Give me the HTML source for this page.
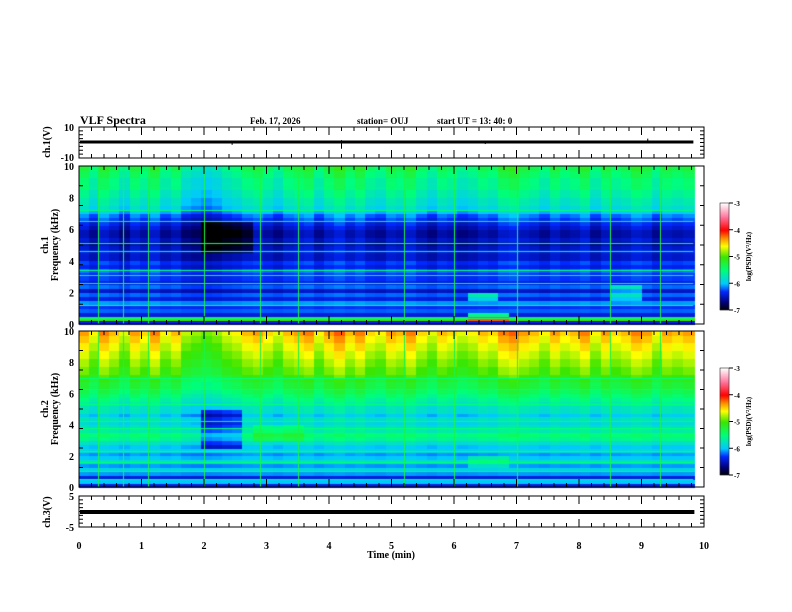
<!DOCTYPE html>
<html><head><meta charset="utf-8"><style>
body{margin:0;background:#fff;width:792px;height:612px;overflow:hidden;position:relative;font-family:"Liberation Serif",serif}
canvas,svg{position:absolute;left:0;top:0}
</style></head><body>
<canvas id="cv" width="792" height="612"></canvas>
<svg id="sv" width="792" height="612" font-family="Liberation Serif, serif" font-weight="bold"></svg>
<script>
// ---- data ----
const freqProfile1=[-6.4,-5.0,-6.4,-6.2,-6.3,-6.1,-6.4,-6.2,-6.5,-6.2,-6.4,-6.3,-6.3,-6.2,-6.4,-6.3,-6.5,-6.5,-6.4,-6.5,-6.6,-6.5,-6.6,-6.6,-6.5,-6.4,-6.3,-6.2,-6.0,-5.9,-5.8,-5.8,-5.7,-5.7,-5.6,-5.6,-5.6,-5.5,-5.5,-5.4];
const freqProfile2=[-6.4,-6.0,-6.4,-6.1,-5.9,-6.1,-5.8,-6.0,-6.1,-5.9,-6.0,-5.8,-5.6,-5.5,-5.7,-5.8,-5.9,-5.8,-6.0,-5.8,-5.8,-5.7,-5.6,-5.5,-5.4,-5.3,-5.3,-5.2,-5.1,-5.0,-5.0,-4.9,-4.9,-4.8,-4.8,-4.7,-4.7,-4.6,-4.6,-4.5];
const timeMod=[0.2,-0.1,0.3,0.1,-0.2,0.2,0.0,0.3,-0.1,0.1,-0.3,-0.4,-0.5,-0.4,-0.2,-0.1,0.1,0.2,0.0,-0.2,0.1,0.2,0.3,-0.1,0.2,0.4,0.1,0.3,0.0,-0.1,0.2,0.1,0.3,0.0,-0.2,0.1,0.0,-0.2,-0.1,0.1,0.0,0.3,0.4,0.2,0.1,-0.1,0.2,0.0,0.1,0.3,-0.1,0.2,0.0,0.1,0.3,0.2,-0.1,0.2,0.1,0.2];
const patches1=[[1.9,2.7,4.5,6.5,-0.35],[6.3,6.7,1.5,2,0.5],[6.2,6.8,0.3,0.6,0.8],[8.6,8.9,1.5,2.5,0.4]];
const patches2=[[1.9,2.6,2.5,5,-0.4],[2.8,3.5,3,4,0.25],[6.2,6.8,1.3,1.8,0.3]];
const hLines1=[0.4,1.2,2.6,3.1,3.4,4.6,5.1,6.5,7.2];
const hLines2=[0.5,1.0,1.6,2.3,3.8,4.2,5.3,6.3,7.0];
const vLines=[0.3,0.7,1.1,2.0,2.9,3.5,5.2,6.0,7.0,8.5,9.3];
const ch1Spikes=[[2.45,-1.5],[4.2,-4],[4.2,1.5],[9.1,2.5],[6.5,-1],[1.3,1]];
const cbTicks=[-3,-4,-5,-6,-7];
const tTicks=[0,1,2,3,4,5,6,7,8,9,10];
// ---- geometry ----
const X0=79,X1=704,tMax=9.83;
const xs=t=>X0+t*(X1-X0)/10;
const P1={top:166,bot:324},P2={top:331,bot:487};
const fy=(p,f)=>p.bot-f*(p.bot-p.top)/10;
const stops=[[-7,0,0,0],[-6.7,0,0,120],[-6.3,0,40,255],[-6,0,200,255],[-5.5,0,255,120],[-5,60,230,0],[-4.6,255,255,0],[-4.3,255,140,0],[-4,255,0,0],[-3.5,255,120,160],[-3,255,255,255]];
function col(v){v=Math.max(-7,Math.min(-3,v));for(let i=1;i<stops.length;i++){if(v<=stops[i][0]){const a=stops[i-1],b=stops[i],k=(v-a[0])/(b[0]-a[0]);return `rgb(${a.map((q,j)=>j?Math.round(q+(b[j]-q)*k):0).slice(1).join(',')})`;}}return '#fff';}
const ctx=document.getElementById('cv').getContext('2d');
function spec(p,prof,patches,hl,w){
  const nt=timeMod.length,dt=tMax/nt;
  for(let i=0;i<nt;i++)for(let j=0;j<prof.length;j++){
    const t=i*dt,f=j*0.25;let v=prof[j]+timeMod[i]*w*(f/10);
    patches.forEach(q=>{if(t+dt/2>=q[0]&&t<q[1]&&f+0.125>=q[2]&&f<q[3])v+=q[4];});
    ctx.fillStyle=col(v);const x=xs(t),y=fy(p,f+0.25);
    ctx.fillRect(Math.floor(x),Math.floor(y),Math.ceil(xs(t+dt)-x)+1,Math.ceil(fy(p,f)-y)+1);}
  ctx.fillStyle=col(-5.5);hl.forEach(f=>ctx.fillRect(X0,Math.round(fy(p,f)),xs(tMax)-X0,1));
  ctx.fillStyle=col(-5.3);vLines.forEach(t=>ctx.fillRect(Math.round(xs(t)),p.top,1,p.bot-p.top));
}
spec(P1,freqProfile1,patches1,hLines1,0.8);
spec(P2,freqProfile2,patches2,hLines2,0.8);
// colorbars
[[203,310],[368,475]].forEach(([a,b])=>{for(let y=a;y<b;y++){ctx.fillStyle=col(-3-4*(y-a)/(b-a));ctx.fillRect(720,y,9,1);}});
// ---- svg ----
const S=document.getElementById('sv'),NS='http://www.w3.org/2000/svg';
function el(tag,at,txt){const e=document.createElementNS(NS,tag);for(const k in at)e.setAttribute(k,at[k]);if(txt!=null)e.textContent=txt;S.appendChild(e);return e;}
function txt(x,y,s,size,anchor,name,rot){const e=el('text',{x,y,'font-size':size,'text-anchor':anchor||'middle'},s);if(rot)e.setAttribute('transform',`rotate(-90 ${x} ${y})`);return e;}
const panels=[[127,158],[P1.top,P1.bot],[P2.top,P2.bot],[496,527]];
panels.forEach(([a,b],pi)=>{
  const r=el('rect',{x:X0,y:a,width:X1-X0,height:b-a,fill:'none',stroke:'#000','stroke-width':1});
  
  let d='';
  for(let k=0;k<=50;k++){const x=xs(k*0.2),L=k%5?4:8;d+=`M${x} ${a}v${L}M${x} ${b}v${-L}`;}
  for(let k=1;k<8;k++){const y=a+(b-a)*k/8;d+=`M${X1} ${y}h-4M${X0} ${y}h4`;}
  const pth=el('path',{d,stroke:'#000','stroke-width':1,fill:'none'});
  
});
// y labels
txt(74,131,'10',10,'end','ch1-ymax');txt(74,161,'-10',10,'end','ch1-ymin');
[0,2,4,6,8,10].forEach(f=>{txt(74,fy(P1,f)+4,f,10,'end','ch1-freq-tick');txt(74,fy(P2,f)+4,f,10,'end','ch2-freq-tick');});
txt(74,500,'5',10,'end','ch3-ymax');txt(74,531,'-5',10,'end','ch3-ymin');
txt(50,142,'ch.1(V)',10,'middle','ch1-axis-title',1);
txt(48,245,'ch.1',10,'middle','ch1-spec-title',1);txt(58,245,'Frequency (kHz)',10,'middle','ch1-freq-title',1);
txt(48,409,'ch.2',10,'middle','ch2-spec-title',1);txt(58,409,'Frequency (kHz)',10,'middle','ch2-freq-title',1);
txt(50,512,'ch.3(V)',10,'middle','ch3-axis-title',1);
tTicks.forEach(t=>txt(xs(t),549,t,10,'middle','time-tick'));
txt(391,558,'Time (min)',10,'middle','x-axis-title');
txt(80,124,'VLF Spectra',12,'start','chart-title');
txt(250,124,'Feb. 17, 2026',9,'start','date-label');
txt(357,124,'station= OUJ',9,'start','station-label');
txt(437,124,'start  UT =   13: 40: 0',9,'start','start-time-label');
// ch1 signal
const sg=el('path',{d:`M${X0+1} 142H${xs(tMax)}`,stroke:'#000','stroke-width':3});

const v2y=v=>142.5-v*31/20;
ch1Spikes.forEach(([t,v])=>{const s=el('line',{x1:xs(t),x2:xs(t),y1:142,y2:v2y(v),stroke:'#000','stroke-width':1});});
const c3=el('rect',{x:X0+1,y:510,width:xs(tMax)-X0,height:4,fill:'#000'});

// colorbar ticks
[[203,310,'cb1'],[368,475,'cb2']].forEach(([a,b,n])=>{
  const fr=el('rect',{x:720,y:a,width:9,height:b-a,fill:'none',stroke:'#000','stroke-width':0.5});
  cbTicks.forEach(v=>{const y=a+(b-a)*(-3-v)/4;const l=el('line',{x1:729,x2:733,y1:y,y2:y,stroke:'#000'});txt(734,y+3,v,7,'start',n+'-tick-label');});
  txt(751,(a+b)/2,'log(PSD)(V²/Hz)',7,'middle',n+'-title',1);
});
</script>
</body></html>
